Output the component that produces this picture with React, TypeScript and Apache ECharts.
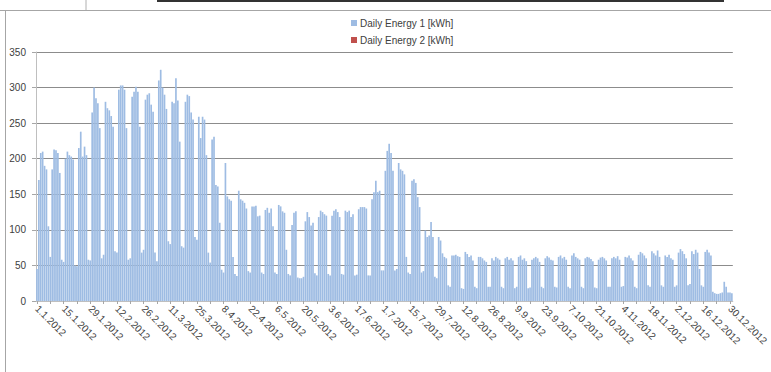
import React, { useEffect, useRef } from "react";
import * as echarts from "echarts";

// Daily energy values for 2012 (kWh)
const jan = [45, 170, 208, 210, 190, 185, 105, 62, 185, 213, 212, 208, 180, 58, 55, 200, 210, 205, 203, 199, 50, 49, 215, 238, 203, 217, 205, 58, 57, 265, 300];
const feb = [285, 278, 243, 60, 65, 280, 271, 268, 260, 245, 70, 68, 297, 303, 303, 297, 243, 58, 60, 287, 294, 301, 294, 245, 68, 72, 283, 290, 292];
const mar = [276, 266, 68, 56, 310, 325, 300, 290, 270, 84, 80, 280, 278, 313, 282, 224, 77, 75, 280, 290, 288, 265, 255, 90, 86, 259, 229, 259, 255, 205, 68];
const apr = [54, 227, 231, 163, 161, 110, 44, 40, 194, 147, 143, 141, 62, 38, 35, 155, 143, 141, 138, 130, 42, 40, 133, 133, 134, 119, 120, 40, 38, 128];
const may = [131, 124, 130, 105, 40, 38, 135, 133, 126, 124, 72, 38, 36, 107, 124, 126, 33, 32, 32, 34, 112, 125, 118, 106, 110, 39, 36, 118, 127, 125, 122];
const jun = [120, 38, 36, 120, 127, 129, 125, 118, 38, 37, 127, 125, 127, 118, 122, 36, 37, 129, 132, 132, 132, 130, 36, 36, 143, 153, 169, 153, 155, 43];
const jul = [43, 183, 211, 221, 208, 183, 43, 45, 194, 185, 183, 178, 62, 40, 38, 169, 171, 166, 146, 132, 40, 42, 99, 90, 92, 111, 90, 34, 32, 90, 85];
const aug = [67, 62, 60, 22, 20, 64, 64, 65, 63, 62, 18, 17, 69, 66, 62, 64, 57, 20, 18, 62, 62, 60, 57, 55, 20, 20, 60, 57, 62, 60, 58];
const sep = [20, 18, 60, 62, 58, 60, 57, 18, 20, 62, 64, 58, 60, 56, 18, 19, 58, 60, 62, 60, 55, 20, 18, 60, 63, 61, 58, 57, 20, 19];
const oct = [62, 64, 60, 62, 58, 20, 18, 64, 67, 62, 60, 58, 20, 18, 60, 62, 61, 59, 56, 19, 18, 58, 61, 62, 60, 57, 20, 20, 60, 62, 60];
const nov = [63, 58, 20, 21, 62, 61, 64, 60, 57, 20, 18, 65, 69, 67, 64, 60, 22, 20, 70, 67, 64, 71, 62, 22, 20, 64, 62, 65, 60, 58];
const dec = [20, 22, 68, 73, 70, 66, 60, 22, 24, 70, 66, 72, 68, 45, 22, 20, 69, 72, 68, 64, 13, 11, 10, 10, 11, 12, 27, 20, 12, 12, 11];

const monthDays = [jan, feb, mar, apr, may, jun, jul, aug, sep, oct, nov, dec];
const energy1: number[] = monthDays.flat();
const energy2: number[] = [];

const yTicks = [0, 50, 100, 150, 200, 250, 300, 350];

// category labels "d.m.2012"
const dates: string[] = [];
monthDays.forEach((m, mi) => m.forEach((_, di) => dates.push(`${di + 1}.${mi + 1}.2012`)));

export default function App() {
  const ref = useRef<HTMLDivElement>(null);
  useEffect(() => {
    document.body.style.margin = "0";
    const chart = echarts.init(ref.current!, null, { renderer: "svg" });
    const font = "'Liberation Sans', Arial, sans-serif";
    chart.setOption({
      animation: false,
      backgroundColor: "#ffffff",
      textStyle: { fontFamily: font },
      legend: {
        orient: "vertical",
        left: 346,
        top: 13,
        itemWidth: 6,
        itemHeight: 6,
        itemGap: 7,
        icon: "rect",
        textStyle: { fontSize: 10, color: "#404040", fontFamily: font, padding: [0, 0, 0, -2] },
        data: ["Daily Energy 1 [kWh]", "Daily Energy 2 [kWh]"],
      },
      grid: { left: 36, right: 31, top: 52, bottom: 71, containLabel: false },
      xAxis: {
        type: "category",
        data: dates,
        boundaryGap: true,
        axisLine: { show: true, lineStyle: { color: "#bfbfbf", width: 1 } },
        axisTick: { show: true, interval: 6, length: 3, alignWithLabel: true, lineStyle: { color: "#a6a6a6" } },
        axisLabel: {
          interval: 13,
          rotate: -45,
          fontSize: 10,
          color: "#404040",
          fontFamily: font,
          margin: 6,
          hideOverlap: false,
        },
        splitLine: { show: false },
      },
      yAxis: {
        type: "value",
        min: yTicks[0],
        max: yTicks[yTicks.length - 1],
        interval: 50,
        axisLine: { show: true, lineStyle: { color: "#bfbfbf" } },
        axisTick: { show: true, length: 4, lineStyle: { color: "#a6a6a6" } },
        axisLabel: { fontSize: 10, color: "#404040", margin: 10, fontFamily: font },
        splitLine: { show: true, lineStyle: { color: "#8c8c8c", width: 1 } },
      },
      graphic: [
        { type: "line", shape: { x1: 157, y1: 1, x2: 724, y2: 1 }, style: { stroke: "#333333", lineWidth: 2 } },
        { type: "line", shape: { x1: 86, y1: 0, x2: 86, y2: 10 }, style: { stroke: "#b0b0b0", lineWidth: 1 } },
        { type: "line", shape: { x1: 0, y1: 10.5, x2: 771, y2: 10.5 }, style: { stroke: "#a6a6a6", lineWidth: 1 } },
        { type: "line", shape: { x1: 5.5, y1: 10, x2: 5.5, y2: 372 }, style: { stroke: "#a6a6a6", lineWidth: 1 } },
      ],
      series: [
        {
          name: "Daily Energy 1 [kWh]",
          type: "bar",
          data: energy1,
          itemStyle: { color: "#9ebce3" },
          barCategoryGap: "12%",
          barGap: "-100%",
        },
        {
          name: "Daily Energy 2 [kWh]",
          type: "bar",
          data: energy2,
          itemStyle: { color: "#c0504d" },
          barGap: "-100%",
        },
      ],
    });
    return () => chart.dispose();
  }, []);
  return <div ref={ref} style={{ position: "fixed", left: 0, top: 0, width: 771, height: 372 }} />;
}
